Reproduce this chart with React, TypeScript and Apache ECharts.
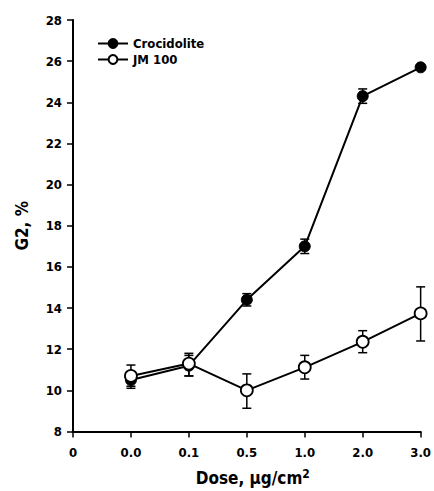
import React, { useEffect, useRef } from "react";
import * as echarts from "echarts";

const tickLabels = ["0", "0.0", "0.1", "0.5", "1.0", "2.0", "3.0"];
const doseIndex = [1, 2, 3, 4, 5, 6];
const crocidolite = [10.5, 11.2, 14.4, 17.0, 24.3, 25.7];
const crocidoliteLow = [10.1, 10.7, 14.1, 16.65, 23.95, 25.6];
const crocidoliteHigh = [10.9, 11.7, 14.7, 17.35, 24.65, 25.8];
const jm100 = [10.7, 11.3, 10.0, 11.12, 12.36, 13.74];
const jm100Low = [10.2, 10.7, 9.13, 10.55, 11.83, 12.4];
const jm100High = [11.23, 11.8, 10.8, 11.7, 12.9, 15.03];

const FONT = "'Liberation Sans Narrow', 'DejaVu Sans Condensed', Arial, sans-serif";

export default function App() {
  const ref = useRef<HTMLDivElement>(null);
  useEffect(() => {
    if (!ref.current) return;
    const chart = echarts.init(ref.current, undefined, { renderer: "svg" });
    const errData = (lo: number[], hi: number[]) =>
      doseIndex.map((x, i) => [x, lo[i], hi[i]]);
    const renderErr = (params: any, api: any) => {
      const x = api.value(0);
      const p1 = api.coord([x, api.value(1)]);
      const p2 = api.coord([x, api.value(2)]);
      const w = 4.5;
      const st = { stroke: "#000", lineWidth: 1.5 };
      return {
        type: "group",
        children: [
          { type: "line", shape: { x1: p1[0], y1: p1[1], x2: p2[0], y2: p2[1] }, style: st },
          { type: "line", shape: { x1: p1[0] - w, y1: p1[1], x2: p1[0] + w, y2: p1[1] }, style: st },
          { type: "line", shape: { x1: p2[0] - w, y1: p2[1], x2: p2[0] + w, y2: p2[1] }, style: st },
        ],
      };
    };
    chart.setOption({
      animation: false,
      backgroundColor: "#fff",
      grid: { left: 73, right: 8, top: 20, bottom: 59.5 },
      legend: {
        left: 97,
        top: 37,
        orient: "vertical",
        itemGap: 3,
        itemWidth: 30,
        itemHeight: 11,
        padding: 0,
        textStyle: { fontFamily: FONT, fontWeight: "bold", fontSize: 13, color: "#000" },
        data: ["Crocidolite", "JM 100"],
      },
      xAxis: {
        type: "value",
        min: 0,
        max: 6,
        interval: 1,
        name: "Dose, µg/cm{sup|2}",
        nameLocation: "middle",
        nameGap: 36,
        nameTextStyle: {
          fontFamily: FONT,
          fontWeight: "bold",
          fontSize: 17,
          color: "#000",
          padding: [0, 0, 0, 12],
          rich: { sup: { fontFamily: FONT, fontWeight: "bold", fontSize: 12, verticalAlign: "top", padding: [0, 0, 8, 0] } },
        },
        splitLine: { show: false },
        axisLine: { lineStyle: { color: "#000", width: 2 } },
        axisTick: { length: 6, lineStyle: { color: "#000", width: 1.5 } },
        axisLabel: {
          fontFamily: FONT,
          fontWeight: "bold",
          fontSize: 13,
          color: "#000",
          margin: 14,
          formatter: (v: number) => tickLabels[Math.round(v)] ?? "",
        },
      },
      yAxis: {
        type: "value",
        min: 8,
        max: 28,
        interval: 2,
        name: "G2, %",
        nameLocation: "middle",
        nameGap: 43,
        nameTextStyle: { fontFamily: FONT, fontWeight: "bold", fontSize: 17, color: "#000" },
        splitLine: { show: false },
        axisLine: { show: true, lineStyle: { color: "#000", width: 2 } },
        axisTick: { show: true, length: 6, lineStyle: { color: "#000", width: 1.5 } },
        axisLabel: { fontFamily: FONT, fontWeight: "bold", fontSize: 13, color: "#000", margin: 11 },
      },
      series: [
        {
          type: "custom",
          name: "crocErr",
          renderItem: renderErr,
          data: errData(crocidoliteLow, crocidoliteHigh),
          z: 1,
          silent: true,
        },
        {
          type: "line",
          name: "Crocidolite",
          data: doseIndex.map((x, i) => [x, crocidolite[i]]),
          symbol: "circle",
          symbolSize: 11,
          lineStyle: { color: "#000", width: 2 },
          itemStyle: { color: "#000", borderColor: "#000", borderWidth: 1 },
          z: 2,
        },
        {
          type: "custom",
          name: "jmErr",
          renderItem: renderErr,
          data: errData(jm100Low, jm100High),
          z: 3,
          silent: true,
        },
        {
          type: "line",
          name: "JM 100",
          data: doseIndex.map((x, i) => [x, jm100[i]]),
          symbol: "circle",
          symbolSize: 12,
          showAllSymbol: true,
          lineStyle: { color: "#000", width: 2 },
          itemStyle: { color: "#fff", borderColor: "#000", borderWidth: 1.8 },
          z: 4,
        },
      ],
    });
    return () => chart.dispose();
  }, []);
  return (
    <div
      ref={ref}
      style={{ position: "fixed", left: 0, top: 0, width: 434, height: 491, background: "#fff" }}
    />
  );
}
